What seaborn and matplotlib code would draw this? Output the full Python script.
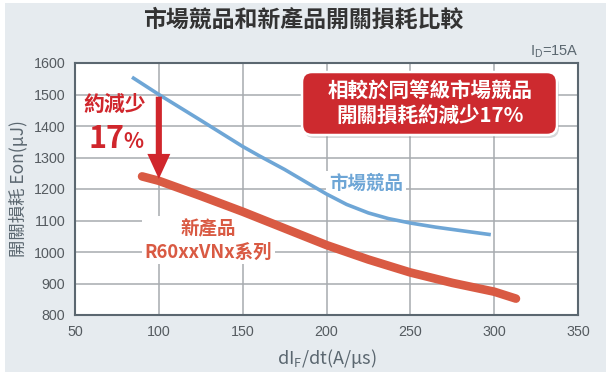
import matplotlib
matplotlib.use("Agg")
import matplotlib.pyplot as plt
import matplotlib.patches as mpatches
import seaborn as sns
import pandas as pd

# ---- data ----
competitor_x = [84, 100, 125, 150, 160, 175, 190, 200, 212, 225, 237, 250, 265, 280, 298]
competitor_y = [1555, 1500, 1418, 1335, 1305, 1262, 1215, 1184, 1151, 1124, 1106, 1092, 1079, 1068, 1055]
new_x = [90, 100, 125, 150, 175, 200, 225, 250, 275, 300, 313]
new_y = [1240, 1226, 1178, 1128, 1075, 1022, 976, 935, 902, 874, 852]
x_ticks = [50, 100, 150, 200, 250, 300, 350]
y_ticks = [800, 900, 1000, 1100, 1200, 1300, 1400, 1500, 1600]
arrow_x = 100
arrow_from = 1493
arrow_to = 1232

title = "市場競品和新產品開關損耗比較"
xlabel = r"dI$_\mathregular{F}$/dt(A/μs)"
ylabel = "開關損耗 Eon(μJ)"
cond = r"I$_\mathregular{D}$=15A"
label_comp = "市場競品"
label_new = "新產品\nR60xxVNx系列"
callout = "相較於同等級市場競品\n開關損耗約減少17%"
reduce_txt = "約減少"
reduce_pct = "17"

sns.set_style("white")
plt.rcParams['font.family'] = ['Noto Sans CJK TC', 'DejaVu Sans']
plt.rcParams['mathtext.fontset'] = 'custom'

BG = "#e6ebef"
RED = "#d0262c"
RED_LINE = "#d95a43"
BLUE = "#6ea6d6"
GRAY = "#5b6770"

fig = plt.figure(figsize=(6.06, 3.72), dpi=100, facecolor=BG)
# thin white margins as in the reference
fig.patches.append(mpatches.Rectangle((0, 0), 5/606, 1, transform=fig.transFigure, fc="white", ec="none", zorder=-1))
fig.patches.append(mpatches.Rectangle((0, 1-3/372), 1, 3/372, transform=fig.transFigure, fc="white", ec="none", zorder=-1))

ax = fig.add_axes([75/606, 1-315/372, (578-75)/606, (315-63)/372])
ax.set_facecolor("white")

df_c = pd.DataFrame({"x": competitor_x, "y": competitor_y})
df_n = pd.DataFrame({"x": new_x, "y": new_y})
sns.lineplot(data=df_c, x="x", y="y", ax=ax, color=BLUE, lw=2.6, zorder=3,
             solid_capstyle="butt", solid_joinstyle="round")
sns.lineplot(data=df_n, x="x", y="y", ax=ax, color=RED_LINE, lw=6.2, zorder=3,
             solid_capstyle="round", solid_joinstyle="round")

ax.set_xlim(x_ticks[0], x_ticks[-1])
ax.set_ylim(y_ticks[0], y_ticks[-1])
ax.set_xticks(x_ticks)
ax.set_yticks(y_ticks)
ax.set_xticklabels([str(v) for v in x_ticks], family="Liberation Sans", fontsize=10.3, color="#555b60")
ax.set_yticklabels([str(v) for v in y_ticks], family="Liberation Sans", fontsize=10.3, color="#555b60")
ax.tick_params(length=0, pad=7)
ax.grid(True, color="#a7abaf", lw=1.1, zorder=0)
ax.set_axisbelow(True)
for s in ax.spines.values():
    s.set_color(GRAY)
    s.set_linewidth(1.5)
ax.set_xlabel(xlabel, fontsize=13, color=GRAY, labelpad=6)
ax.set_ylabel(ylabel, fontsize=12.5, color=GRAY, labelpad=4)

# title and condition
fig.text(0.5, 1-20/372, title, ha="center", va="center", fontsize=16.5,
         fontweight="bold", color="#333333")
fig.text(579/606, 1-52/372, cond, ha="right", va="center", fontsize=10.5,
         color=GRAY, family="Liberation Sans")

# arrow and reduction text
ax.annotate("", xy=(arrow_x, arrow_to), xytext=(arrow_x, arrow_from),
            arrowprops=dict(arrowstyle="simple,head_length=18,head_width=16.5,tail_width=4.4",
                            mutation_scale=1, fc=RED, ec="none", lw=0,
                            shrinkA=0, shrinkB=0), zorder=4)
ax.text(73.4, 1467, reduce_txt, ha="center", va="center", fontsize=15,
        fontweight="bold", color=RED, zorder=5)
ax.text(57.8, 1329, reduce_pct, ha="left", va="baseline", fontsize=22,
        fontweight="bold", color=RED, zorder=5)
ax.text(79.0, 1329, "%", ha="left", va="baseline", fontsize=15,
        fontweight="bold", color=RED, zorder=5)

# line labels (white background hides the grid, below the curves)
ax.text(223.6, 1218, label_comp, ha="center", va="center", fontsize=13.3,
        fontweight="bold", color=BLUE, zorder=2,
        bbox=dict(boxstyle="square,pad=0.15", fc="white", ec="none"))
ax.text(129.6, 1037, label_new, ha="center", va="center", fontsize=13.3,
        fontweight="bold", color=RED_LINE, zorder=2, linespacing=1.3,
        bbox=dict(boxstyle="square,pad=0.15", fc="white", ec="none"))

# callout box (pixel-based inches)
bx, by, bw, bh = 3.02, (372-135)/100, 2.55, 0.63
shadow = mpatches.FancyBboxPatch((bx+0.02, by-0.03), bw, bh,
                                 boxstyle="round,pad=0,rounding_size=0.1",
                                 transform=fig.dpi_scale_trans, fc="#8a8f94",
                                 ec="none", alpha=0.35, zorder=6)
box = mpatches.FancyBboxPatch((bx, by), bw, bh,
                              boxstyle="round,pad=0,rounding_size=0.1",
                              transform=fig.dpi_scale_trans, fc="#cd2a2f",
                              ec="white", lw=1.8, zorder=7)
fig.patches.append(shadow)
fig.patches.append(box)
fig.text(430/606, 1-103/372, callout, ha="center", va="center", fontsize=14.8,
         fontweight="bold", color="white", linespacing=1.25, zorder=8)

fig.savefig("out.png", dpi=100, facecolor=BG)
